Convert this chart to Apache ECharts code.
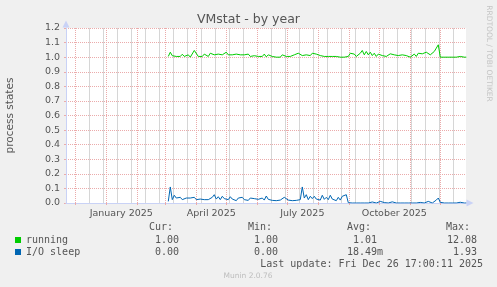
<!DOCTYPE html>
<html><head><meta charset="utf-8">
<script src="https://cdn.jsdelivr.net/npm/echarts@6/dist/echarts.min.js"></script>
<style>html,body{margin:0;padding:0;background:#f0f0f0;}#c{width:497px;height:287px;}</style>
</head><body><div id="c"></div>
<script>
// ---------- data ----------
const chartTitle = 'VMstat - by year';
const yAxisName = 'process states';
const seriesNames = ['running', 'I/O sleep'];
const seriesColors = ['#00CC00', '#0066B3'];
const firstSample = [2025, 2, 4];      // 4 March 2025 (UTC)
const sampleStepDays = 2;
const lastUpdateTime = [2025, 11, 26, 17, 0, 11];
const spanDays = 400;

const running = [
1.005,1.034,1.01,1.02,1.005,1.016,1.005,1.02,1.005,1.011,
1.016,1.0,1.0,1.046,1.05,1.005,1.016,1.005,1.021,1.011,
1.005,1.027,1.034,1.016,1.027,1.021,1.027,1.016,1.023,1.034,
1.016,1.005,1.016,1.005,1.021,1.01,1.016,1.005,1.016,1.01,
1.021,1.005,1.016,1.01,1.021,1.005,1.011,1.005,1.021,1.002,
1.016,1.027,1.005,1.0,1.0,1.0,1.0,1.016,1.023,1.005,
1.016,1.005,1.011,1.016,1.021,1.027,1.016,1.011,1.005,1.016,
1.005,1.011,1.027,1.034,1.021,1.027,1.011,1.021,1.005,1.016,
1.005,1.011,1.005,1.016,1.005,1.011,1.0,1.0,1.0,1.0,
1.005,1.027,1.016,1.021,1.005,1.016,1.027,1.046,1.016,1.039,
1.016,1.034,1.011,1.027,1.005,1.021,1.016,1.011,1.021,1.005,
1.016,1.023,1.011,1.016,1.005,1.011,1.005,1.016,1.005,1.011,
1.0,1.0,1.0,1.021,1.005,1.027,1.016,1.023,1.011,1.034,
1.043,1.016,1.027,1.039,1.062,1.085,1.0,1.0,1.0,1.0,
1.0,1.0,1.0,1.0,1.0,1.0,1.005,1.0,1.0,1.0
];
const ioSleep = [
0.011,0.11,0.023,0.053,0.034,0.023,0.039,0.023,0.03,0.034,
0.023,0.034,0.027,0.039,0.023,0.034,0.027,0.03,0.023,0.034,
0.023,0.027,0.039,0.057,0.027,0.043,0.023,0.046,0.03,0.039,
0.023,0.043,0.027,0.039,0.016,0.034,0.023,0.039,0.023,0.027,
0.018,0.034,0.023,0.03,0.018,0.025,0.02,0.034,0.02,0.048,
0.025,0.023,0.018,0.02,0.016,0.023,0.02,0.025,0.039,0.046,
0.02,0.018,0.016,0.02,0.018,0.016,0.023,0.11,0.034,0.057,
0.023,0.046,0.03,0.046,0.027,0.039,0.02,0.053,0.025,0.039,
0.023,0.053,0.027,0.034,0.016,0.039,0.02,0.046,0.034,0.057,
0.002,0,0,0,0,0,0,0,0,0,
0,0,0.007,0.004,0,0,0.011,0,0.003,0,
0,0,0.008,0.011,0,0,0,0,0,0,
0,0,0,0,0,0,0.004,0,0,0.007,
0.011,0.009,0,0.004,0.02,0.034,0.005,0,0,0,
0,0.004,0,0,0,0,0.005,0,0,0
];

const xTickLabels = ['January 2025', 'April 2025', 'July 2025', 'October 2025'];
const statHeaders = ['Cur:', 'Min:', 'Avg:', 'Max:'];
const runningStats = ['1.00', '1.00', '1.01', '12.08'];
const ioSleepStats = ['0.00', '0.00', '18.49m', '1.93'];
const lastUpdateText = 'Last update: Fri Dec 26 17:00:11 2025';
const footerText = 'Munin 2.0.76';
const watermarkText = 'RRDTOOL / TOBI OETIKER';

// ---------- build ----------
const DAY = 86400000;
const MONTHS = ['January','February','March','April','May','June','July','August','September','October','November','December'];
const tEnd = Date.UTC.apply(null, lastUpdateTime);
const tStart = tEnd - spanDays * DAY;
const t0 = Date.UTC.apply(null, firstSample);
const toPairs = arr => arr.map((v, i) => [t0 + i * sampleStepDays * DAY, v]);

const majorTicks = [];
{
  const d = new Date(tStart); const y = d.getUTCFullYear(); let m = d.getUTCMonth() + 1;
  while (true) { const t = Date.UTC(y, m, 1); if (t > tEnd) break; majorTicks.push(t); m++; }
}
const minorTicks = [];
for (let t = Date.UTC(2024, 11, 1) - 14 * DAY; t <= tEnd; t += 14 * DAY) if (t >= tStart && majorTicks.indexOf(t) < 0) minorTicks.push(t);
const labelTicks = xTickLabels.map(s => { const p = s.split(' '); return Date.UTC(+p[1], MONTHS.indexOf(p[0]), 16); });

const TXT = '#555';
const MAJOR = '#EBABAB';
const MINOR = '#D6D6D6';
const AXIS = '#C9D2F6';
const CLEAR = 'rgba(0,0,0,0)';
const mono = '"DejaVu Sans Mono", monospace';

const chart = echarts.init(document.getElementById('c'), null, {renderer: 'canvas'});
const colsX = [173, 272, 371, 470];
const valX = [179, 278, 377, 477];
const valX2 = [179, 278, 383, 477];
const graphics = [];
const addText = (s, x, y, align) => graphics.push({type:'text', x: x, y: y, style:{text:s, font:'10px ' + mono, fill:TXT, textAlign:align, textVerticalAlign:'middle'}});
statHeaders.forEach((s, i) => addText(s, colsX[i], 227, 'right'));
runningStats.forEach((s, i) => addText(s, valX[i], 240, 'right'));
ioSleepStats.forEach((s, i) => addText(s, valX2[i], 252, 'right'));
addText(lastUpdateText, 483, 264, 'right');
graphics.push({type:'text', x: 248, y: 276, style:{text:footerText, font:'7.5px "DejaVu Sans"', fill:'#bdbdbd', textAlign:'center', textVerticalAlign:'middle'}});
graphics.push({type:'text', x: 488.5, y: 53.5, rotation: -Math.PI / 2, style:{text:watermarkText, font:'7.5px "DejaVu Sans"', fill:'#c4c4c4', textAlign:'center', textVerticalAlign:'middle'}});

chart.setOption({
  animation: false,
  backgroundColor: '#f0f0f0',
  textStyle: {fontFamily: '"DejaVu Sans"'},
  title: {text: chartTitle, left: 'center', top: 13.5, padding: 0,
    textStyle: {fontSize: 12.5, fontWeight: 'normal', color: TXT, fontFamily: '"DejaVu Sans"'}},
  grid: {left: 66, right: 31, top: 28, bottom: 84, show: true, backgroundColor: '#ffffff', borderWidth: 0, outerBoundsMode: 'none'},
  legend: {data: seriesNames, orient: 'vertical', left: 15, top: 235, itemWidth: 6, itemHeight: 6, itemGap: 2, padding: 0,
    icon: 'rect', selectedMode: false, textStyle: {fontFamily: mono, fontSize: 10, color: TXT}},
  xAxis: [{
    type: 'value', min: tStart, max: tEnd, position: 'bottom', z: 1,
    axisLine: {show: true, onZero: false, lineStyle: {color: AXIS, width: 1}, symbol: ['none', 'triangle'], symbolSize: [7, 7], symbolOffset: [0, 4]},
    axisTick: {show: true, length: 2, customValues: majorTicks, lineStyle: {color: MAJOR}},
    axisLabel: {customValues: labelTicks, margin: 6, fontSize: 9.5, color: TXT, fontFamily: '"DejaVu Sans"',
      formatter: v => { const d = new Date(v); const m = MONTHS[d.getUTCMonth()] + ' ' + d.getUTCFullYear(); return xTickLabels.indexOf(m) >= 0 ? m : ''; }},
    splitLine: {show: true, lineStyle: {color: MAJOR, width: 1, type: [1, 1]}}
  }, {
    type: 'value', min: tStart, max: tEnd, position: 'top', z: 0,
    axisLine: {show: true, lineStyle: {color: CLEAR}},
    axisLabel: {show: true, fontSize: 6, color: CLEAR},
    axisTick: {show: true, length: 1, customValues: minorTicks, lineStyle: {color: CLEAR}},
    splitLine: {show: true, lineStyle: {color: MINOR, width: 1}}
  }],
  yAxis: {
    type: 'value', min: 0, max: 1.2, interval: 0.1,
    name: yAxisName, nameLocation: 'middle', nameRotate: 90, nameGap: 50,
    nameTextStyle: {fontSize: 10.5, color: TXT, fontFamily: '"DejaVu Sans"'},
    axisLine: {show: true, lineStyle: {color: AXIS, width: 1}, symbol: ['none', 'triangle'], symbolSize: [7, 7], symbolOffset: [0, 4]},
    axisTick: {show: true, length: 2, lineStyle: {color: MAJOR}},
    axisLabel: {margin: 6, fontSize: 9.5, color: TXT, fontFamily: '"DejaVu Sans"', formatter: v => v.toFixed(1)},
    splitLine: {show: true, lineStyle: {color: MAJOR, width: 1, type: [1, 1]}}
  },
  series: [
    {name: seriesNames[0], type: 'line', xAxisIndex: 0, data: toPairs(running), showSymbol: false, symbol: 'none',
      color: seriesColors[0], lineStyle: {width: 1, color: seriesColors[0]}},
    {name: seriesNames[1], type: 'line', xAxisIndex: 1, data: toPairs(ioSleep), showSymbol: false, symbol: 'none',
      color: seriesColors[1], lineStyle: {width: 1, color: seriesColors[1]}}
  ],
  graphic: graphics
});
</script></body></html>
